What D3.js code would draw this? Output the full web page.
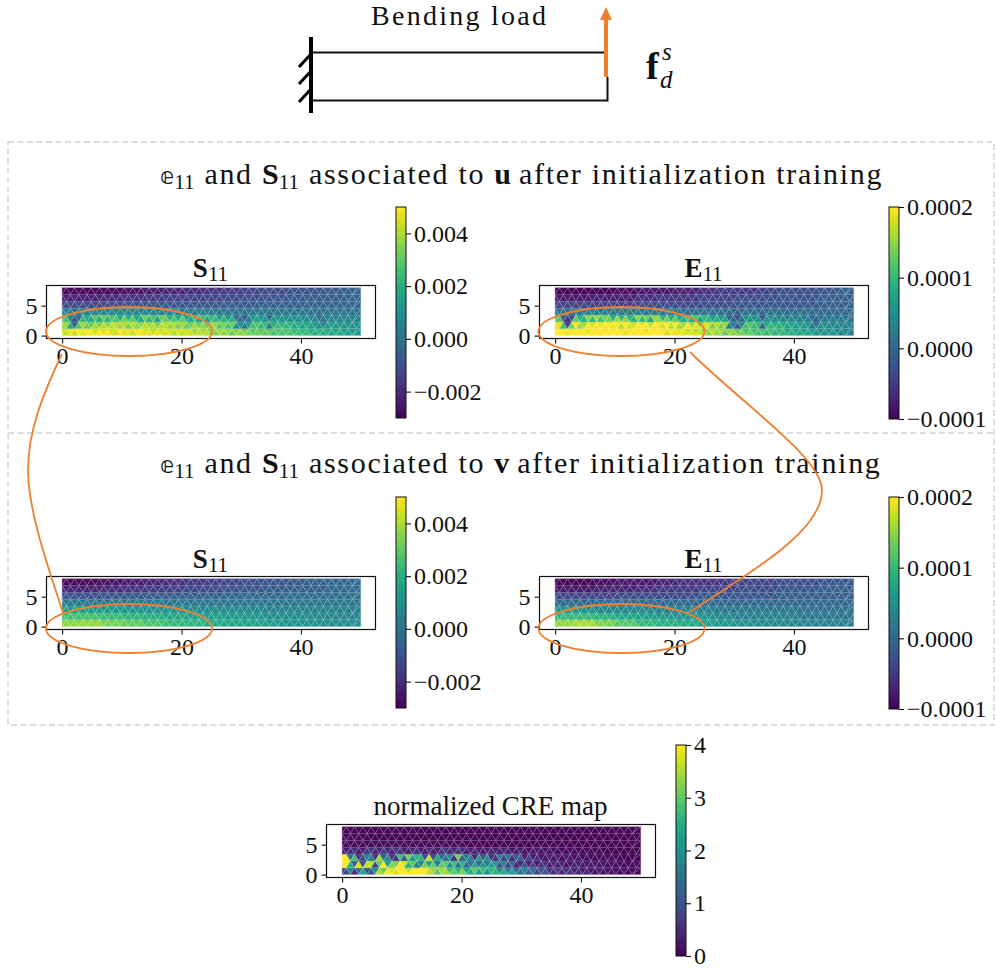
<!DOCTYPE html>
<html>
<head>
<meta charset="utf-8">
<script src="https://cdn.jsdelivr.net/npm/d3@7"></script>
<style>
  html, body { margin: 0; padding: 0; background: #fff; }
  svg { display: block; }
  text { font-family: "Liberation Serif", serif; fill: #111; }
</style>
</head>
<body>
<div id="chart"></div>
<script>
// ---- Data ----
// mesh values, rows run bottom to top, left to right along the beam
// S11 in units of 1e-4, E11 in 1e-5, CRE in 0.1
const sUnit = 1e-4, eUnit = 1e-5, creUnit = 0.1;

const s11u = [
  [44,48,43,50,46,49,44,50,46,49,44,50,46,48,43,49,45,47,42,48,44,46,40,46,42,44,38,43,39,41,35,39,36,37,32,36,33,34,29,32,30,30,26,28,26,27,24,25,23,24,21,22,20,20,18,18,16,15,14,13,12],
  [38,20,-4,28,38,32,40,34,42,36,42,38,42,34,42,36,42,38,41,34,41,36,41,34,39,32,39,32,37,30,37,29,34,27,32,10,2,12,26,28,24,4,20,25,21,23,18,20,16,18,14,8,6,14,15,13,13,11,11,10,10],
  [26,4,-8,-4,24,18,30,20,32,22,28,18,33,20,30,18,32,22,28,16,32,20,29,18,30,18,27,16,26,16,24,14,22,13,20,0,-6,2,14,16,13,-3,12,13,11,11,9,10,9,9,8,0,-1,7,7,6,6,6,5,5,5],
  [6,4,1,3,6,5,7,6,8,6,7,6,8,6,7,6,7,6,6,5,6,5,5,5,4,4,4,3,3,3,3,2,2,2,2,1,0,1,2,2,2,1,2,2,2,2,1,1,1,1,1,0,0,1,1,1,1,0,0,0,0],
  [-12,-12,-11,-10,-9,-9,-8,-8,-7,-7,-6,-6,-5,-5,-4],
  [-22,-22,-20,-18,-16,-15,-14,-13,-12,-10,-9,-8,-7,-6,-5],
  [-29,-29,-28,-26,-24,-22,-20,-18,-16,-14,-12,-10,-9,-7,-5]
];
const e11u = [
  [20,20,19,20,20,20,19,20,20,20,20,20,20,20,19,20,20,20,19,20,20,20,18,20,19,19,17,19,17,18,15,17,15,16,13,15,13,14,11,13,11,12,10,11,9,10,8,9,8,8,7,7,6,6,5,5,5,4,4,3,3],
  [19,11,-4,14,20,16,20,18,20,19,20,19,20,17,20,18,20,19,20,17,20,18,20,17,20,16,20,16,19,15,18,14,17,14,16,3,-2,4,11,12,10,-1,8,10,9,9,7,8,6,7,6,2,1,5,5,4,4,4,3,3,3],
  [12,-1,-6,-3,13,9,15,10,16,11,14,9,16,10,15,9,15,10,14,8,15,9,14,8,13,8,12,8,12,7,10,6,9,6,8,0,-3,1,5,6,5,-2,5,5,4,4,3,4,3,3,3,0,-1,2,2,2,2,2,2,2,1],
  [2,1,0,1,2,2,3,2,3,2,3,2,3,2,3,2,3,2,2,2,2,2,2,2,2,1,1,1,1,1,1,1,1,1,1,0,-1,0,1,1,1,0,1,1,1,1,1,1,1,1,1,0,0,0,0,0,0,0,0,0,0],
  [-4,-4,-4,-4,-3,-3,-3,-3,-3,-2,-2,-2,-2,-1,-1],
  [-8,-8,-7,-7,-6,-5,-5,-4,-4,-3,-3,-2,-2,-1,-1],
  [-10,-10,-10,-9,-8,-8,-7,-6,-5,-5,-4,-3,-3,-2,-1]
];
const s11v = [
  [36,37,33,30,27,24,22,19,17,15,13,11,10,9,8],
  [26,26,24,22,20,18,16,15,13,12,10,9,8,7,6],
  [14,14,13,12,11,10,9,8,8,7,6,6,5,5,4],
  [2,2,2,2,2,2,2,1,1,1,1,1,1,1,1],
  [-10,-10,-9,-8,-7,-7,-6,-5,-4,-3,-3,-2,-2,-1,-1],
  [-22,-22,-20,-18,-16,-15,-13,-12,-10,-9,-7,-6,-5,-3,-2],
  [-28,-28,-26,-24,-22,-20,-17,-15,-13,-11,-9,-8,-6,-4,-3]
];
const e11v = [
  [15,16,14,12,10,9,8,7,6,5,4,4,3,3,3],
  [10,10,9,8,7,6,5,5,4,3,3,3,2,2,2],
  [5,5,4,4,4,3,3,3,2,2,2,2,1,1,1],
  [0,0,0,0,0,0,0,0,0,0,0,0,0,0,0],
  [-4,-4,-4,-3,-3,-3,-3,-2,-2,-2,-2,-1,-1,-1,-1],
  [-8,-8,-7,-7,-6,-5,-5,-4,-4,-3,-3,-2,-2,-1,-1],
  [-10,-10,-9,-8,-8,-7,-6,-6,-5,-4,-4,-3,-3,-2,-2]
];
const cre = [
  [8,18,5,14,24,10,20,35,30,40,38,40,40,36,40,40,40,36,34,30,34,28,30,26,32,24,30,22,28,20,26,18,24,16,22,14,18,12,14,8,10,6,5,7,4,6,3,5,3,4,2,3,2,2,2,1,2,1,1,1,1],
  [40,25,12,38,10,36,8,30,40,22,32,40,38,25,30,18,32,22,30,14,30,20,28,16,26,14,24,12,22,16,22,10,18,8,14,4,10,3,8,2,6,3,5,3,4,2,4,3,3,2,3,2,2,1,2,1,1,1,1,1,1],
  [40,14,28,6,10,18,6,34,12,20,6,28,12,32,22,26,10,36,8,24,14,20,6,32,12,18,4,22,10,20,6,18,8,16,5,12,3,8,3,6,2,4,2,4,1,3,1,3,1,2,1,1,1,1,1,1,0,0,0,0,0],
  [3,5,3,6,4,7,4,6,3,5,3,5,3,6,4,5,3,5,3,4,3,4,2,3,2,3,2,2,1,1,1,1,1,1,1,0,0,0,0,0],
  [1,1,1,1,1,1,0,0,0,0,0,0,0,0,0],
  [1,0,0,0,0,0,0,0,0,0,0,0,0,0,0],
  [0,0,0,0,0,0,0,0,0,0,0,0,0,0,0]
];

const xTicks = [0, 20, 40];
const yTicks = [0, 5];
const sTicks = [-0.002, 0, 0.002, 0.004];
const sTickLabels = ["\u22120.002", "0.000", "0.002", "0.004"];
const eTicks = [-0.0001, 0, 0.0001, 0.0002];
const eTickLabels = ["\u22120.0001", "0.0000", "0.0001", "0.0002"];
const creTicks = [0, 1, 2, 3, 4];
const creTickLabels = ["0", "1", "2", "3", "4"];

// ---- Layout ----
const width = 995, height = 968;
const svg = d3.select("#chart").append("svg")
  .attr("width", width).attr("height", height);

const orange = "#f08030";
const nRows = 7, nCols = 36, beamLen = 50, beamH = 8;

// triangle strip of one mesh row, nodes shifted half a cell on every other level
function rowNodes(level) {
  const d = beamLen / nCols, xs = [];
  if (level % 2 === 0) {
    for (let i = 0; i <= nCols; i++) xs.push(i * d);
  } else {
    xs.push(0);
    for (let i = 0; i < nCols; i++) xs.push((i + 0.5) * d);
    xs.push(beamLen);
  }
  return xs.map(x => ({ x, y: level * beamH / nRows }));
}

function rowTriangles(r) {
  const low = rowNodes(r), up = rowNodes(r + 1), tris = [];
  let i = 0, j = 0;
  while (i < low.length - 1 || j < up.length - 1) {
    const takeUp = i === low.length - 1 ||
      (j < up.length - 1 && up[j + 1].x <= low[i + 1].x);
    if (takeUp) { tris.push([low[i], up[j], up[j + 1]]); j++; }
    else { tris.push([low[i], up[j], low[i + 1]]); i++; }
  }
  return tris;
}

function drawMap(cfg) {
  const { left, top, rows, domain, title } = cfg;
  const w = 329, h = 53;
  const x = d3.scaleLinear().domain([-2.7, 52.4]).range([left, left + w]);
  const y = d3.scaleLinear().domain([-0.4, 8.45]).range([top + h, top]);
  const color = d3.scaleSequential(d3.interpolateViridis).domain(domain);
  const line = d3.line().x(d => x(d.x)).y(d => y(d.y));
  const g = svg.append("g");

  rows.forEach((vals, r) => {
    const tris = rowTriangles(r);
    g.selectAll(null).data(tris).enter().append("path")
      .attr("d", d => line(d) + "Z")
      .attr("fill", (d, k) => color(vals[Math.floor(k * vals.length / tris.length)]))
      .attr("stroke", (d, k) => color(vals[Math.floor(k * vals.length / tris.length)]))
      .attr("stroke-width", 0.3);
    g.selectAll(null).data(tris).enter().append("path")
      .attr("d", d => line(d) + "Z")
      .attr("fill", "none")
      .attr("stroke", "#fff")
      .attr("stroke-opacity", 0.2)
      .attr("stroke-width", 0.7);
  });

  g.append("rect")
    .attr("x", left + 0.5).attr("y", top + 0.5)
    .attr("width", w).attr("height", h)
    .attr("fill", "none").attr("stroke", "#111").attr("stroke-width", 1.2);

  const xAxis = g.append("g").attr("transform", `translate(0,${top + h + 0.5})`)
    .call(d3.axisBottom(x).tickValues(xTicks).tickSize(5).tickPadding(3));
  const yAxis = g.append("g").attr("transform", `translate(${left + 0.5},0)`)
    .call(d3.axisLeft(y).tickValues(yTicks).tickSize(5).tickPadding(4));
  [xAxis, yAxis].forEach(a => {
    a.select(".domain").remove();
    a.selectAll("line").attr("stroke", "#111").attr("stroke-width", 1.1);
    a.selectAll("text").style("font-family", '"Liberation Serif", serif')
      .style("font-size", "24px").attr("fill", "#111");
  });

  const cx = left + w / 2;
  if (title.bold) {
    const t = g.append("text").attr("x", cx).attr("y", top - 8)
      .attr("text-anchor", "middle").style("font-size", "27px");
    t.append("tspan").style("font-weight", "bold").text(title.bold);
    t.append("tspan").attr("dy", 4).style("font-size", "21px").text(title.sub);
  } else {
    g.append("text").attr("x", cx).attr("y", top - 9)
      .attr("text-anchor", "middle").style("font-size", "27px").text(title.text);
  }
}

let gradId = 0;
function drawColorbar(cfg) {
  const { left, top, h, domain, ticks, labels } = cfg;
  const id = "cb" + (gradId++);
  const stops = d3.range(0, 1.0001, 0.05);
  const grad = svg.append("defs").append("linearGradient").attr("id", id)
    .attr("x1", 0).attr("x2", 0).attr("y1", 1).attr("y2", 0);
  grad.selectAll("stop").data(stops).enter().append("stop")
    .attr("offset", d => d).attr("stop-color", d => d3.interpolateViridis(d));
  const g = svg.append("g");
  g.append("rect").attr("x", left).attr("y", top).attr("width", 10).attr("height", h)
    .attr("fill", `url(#${id})`);
  g.append("rect").attr("x", left).attr("y", top).attr("width", 10).attr("height", h)
    .attr("fill", "none").attr("stroke", "#111").attr("stroke-width", 1);
  const scale = d3.scaleLinear().domain(domain).range([top + h, top]);
  const axis = g.append("g").attr("transform", `translate(${left + 10},0)`)
    .call(d3.axisRight(scale).tickValues(ticks).tickSize(5).tickPadding(3)
      .tickFormat((d, i) => labels[i]));
  axis.select(".domain").remove();
  axis.selectAll("line").attr("stroke", "#111").attr("stroke-width", 1.1);
  axis.selectAll("text").style("font-family", '"Liberation Serif", serif')
    .style("font-size", "24px").attr("fill", "#111");
}

// ---- Dashed boxes ----
svg.append("rect").attr("x", 8).attr("y", 142).attr("width", 986).attr("height", 583)
  .attr("fill", "none").attr("stroke", "#d2d2d2").attr("stroke-width", 1.4)
  .attr("stroke-dasharray", "6 3.5");
svg.append("line").attr("x1", 8).attr("x2", 994).attr("y1", 433).attr("y2", 433)
  .attr("stroke", "#d2d2d2").attr("stroke-width", 1.4).attr("stroke-dasharray", "6 3.5");

// ---- Beam sketch ----
const beam = svg.append("g");
beam.append("path").attr("d", "M311 52.5H606 M311 100.5H607.5V77").attr("fill", "none")
  .attr("stroke", "#111").attr("stroke-width", 2);
beam.append("line").attr("x1", 311).attr("x2", 311).attr("y1", 37).attr("y2", 113)
  .attr("stroke", "#000").attr("stroke-width", 4);
[67, 84, 102].forEach(yy => {
  beam.append("line").attr("x1", 299).attr("y1", yy).attr("x2", 311).attr("y2", yy - 13)
    .attr("stroke", "#000").attr("stroke-width", 3);
});
beam.append("line").attr("x1", 606).attr("x2", 606).attr("y1", 77).attr("y2", 18)
  .attr("stroke", orange).attr("stroke-width", 4);
beam.append("path").attr("d", "M600 20L606 7L612 20Z").attr("fill", orange);
beam.append("text").attr("x", 371).attr("y", 25)
  .attr("textLength", 175).style("font-size", "28px").text("Bending load");
beam.append("text").attr("x", 646).attr("y", 79).style("font-size", "38px")
  .style("font-weight", "bold").text("f");
beam.append("text").attr("x", 662).attr("y", 60).style("font-size", "25px")
  .style("font-style", "italic").text("s");
beam.append("text").attr("x", 660).attr("y", 88).style("font-size", "25px")
  .style("font-style", "italic").text("d");

// ---- Section titles ----
function sectionTitle(yy, field) {
  const t = svg.append("text").attr("x", 160).attr("y", yy).style("font-size", "30px");
  t.append("tspan").style("font-family", '"DejaVu Sans"').style("font-size", "23px").text("\uD835\uDD56");
  t.append("tspan").attr("dy", 5).style("font-size", "21px").text("11");
  t.append("tspan").attr("dy", -5).attr("dx", 10).attr("letter-spacing", 1.7).text("and ");
  t.append("tspan").style("font-weight", "bold").text("S");
  t.append("tspan").attr("dy", 5).style("font-size", "21px").text("11");
  t.append("tspan").attr("dy", -5).attr("dx", 10).attr("letter-spacing", 1.7).text("associated to ");
  t.append("tspan").style("font-weight", "bold").text(field);
  t.append("tspan").attr("dx", 8).attr("letter-spacing", 1.7).text("after initialization training");
}
sectionTitle(184, "u");
sectionTitle(473, "v");

// ---- Maps ----
const sDomain = [-30, 50], eDomain = [-10, 20], creDomain = [0, 40];
drawMap({ left: 46, top: 285, rows: s11u, domain: sDomain, title: { bold: "S", sub: "11" } });
drawMap({ left: 539, top: 285, rows: e11u, domain: eDomain, title: { bold: "E", sub: "11" } });
drawMap({ left: 46, top: 576, rows: s11v, domain: sDomain, title: { bold: "S", sub: "11" } });
drawMap({ left: 539, top: 576, rows: e11v, domain: eDomain, title: { bold: "E", sub: "11" } });
drawMap({ left: 326, top: 824, rows: cre, domain: creDomain, title: { text: "normalized CRE map" } });

// ---- Colour bars ----
[207, 497].forEach(top => {
  drawColorbar({ left: 396, top, h: 211, domain: sDomain.map(v => v * sUnit), ticks: sTicks, labels: sTickLabels });
  drawColorbar({ left: 889, top, h: 212, domain: eDomain.map(v => v * eUnit), ticks: eTicks, labels: eTickLabels });
});
drawColorbar({ left: 676, top: 745, h: 211, domain: creDomain.map(v => v * creUnit), ticks: creTicks, labels: creTickLabels });

// ---- Orange annotations ----
const notes = svg.append("g").attr("fill", "none").attr("stroke", orange).attr("stroke-width", 1.8);
[[129, 331.5], [621.5, 331.5], [129, 628.5], [621.5, 628.5]].forEach(c => {
  notes.append("ellipse").attr("cx", c[0]).attr("cy", c[1]).attr("rx", 83).attr("ry", 24.5);
});
notes.append("path").attr("d", "M62 354C44 392 28 430 28 470C28 512 50 572 63 613");
notes.append("path").attr("d", "M690 352C740 402 822 458 822 490C822 530 760 566 690 612");
</script>
</body>
</html>
